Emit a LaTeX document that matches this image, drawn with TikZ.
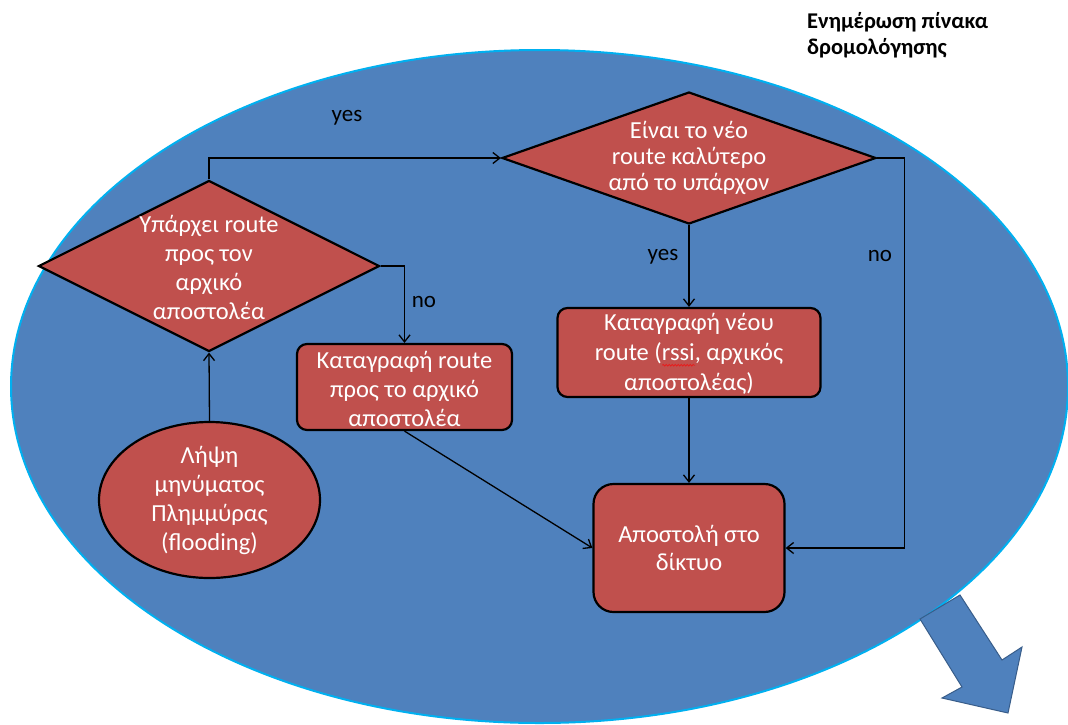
\documentclass[tikz,border=0pt]{standalone}
\usepackage{fontspec}
\setmainfont{Carlito}
\usetikzlibrary{arrows.meta,shapes.geometric,decorations.pathmorphing}

\definecolor{ovalblue}{RGB}{79,129,189}
\definecolor{ovaledge}{RGB}{0,176,240}
\definecolor{boxred}{RGB}{192,80,77}
\definecolor{arrowedge}{RGB}{56,93,138}
\definecolor{spellred}{RGB}{230,30,30}

% wavy spell-check underline under a word
\newsavebox\spellbox
\newlength\spellwd
\newcommand\spellmark[1]{%
  \sbox\spellbox{#1}\setlength\spellwd{\wd\spellbox}%
  \rlap{\tikz[baseline=0pt]\draw[draw=spellred,line width=0.8pt,decorate,
      decoration={snake,amplitude=0.8pt,segment length=3pt}]
      (0pt,-4.5pt) -- (\spellwd,-4.5pt);}%
  \usebox\spellbox}

\tikzset{
  flowbox/.style={rectangle, draw=black, line width=2.2pt, fill=boxred,
    rounded corners=10pt, inner sep=0pt},
  decision/.style={diamond, draw=black, line width=2.2pt, fill=boxred,
    inner sep=0pt},
  startoval/.style={ellipse, draw=black, line width=2.2pt, fill=boxred,
    inner sep=0pt},
  boxtext/.style={text=white, align=center, inner sep=0pt,
    font=\fontsize{24.5}{29}\selectfont},
  link/.style={draw=black, line width=1.3pt,
    -{Straight Barb[length=7pt,width=11pt,line width=1.3pt]}},
  lbl/.style={text=black, inner sep=0pt, font=\fontsize{23}{27}\selectfont},
}

\begin{document}
\begin{tikzpicture}[x=1pt,y=-1pt]
  \useasboundingbox (0,0) rectangle (1068,724);
  \fill[white] (0,0) rectangle (1068,724);

  % large background oval and the outgoing block arrow
  \filldraw[fill=ovalblue, draw=ovaledge, line width=2pt]
    (539.5,386.5) ellipse [x radius=528.5, y radius=336.5];
  \filldraw[fill=ovalblue, draw=arrowedge, line width=1pt, line join=miter]
    (920,619) -- (962,687) -- (942,698) -- (1008,713) -- (1022,647)
    -- (1002,660) -- (960,595) -- cycle;

  % heading
  \node[anchor=north west, inner sep=0pt, align=left,
        font=\bfseries\fontsize{22.5}{26}\selectfont] (title) at (807,12)
    {Ενημέρωση πίνακα\\δρομολόγησης};

  % flow elements
  \node[startoval, minimum width=221pt, minimum height=156pt] (flood) at (209.5,500) {};
  \node[boxtext] (floodtxt) at (flood) {Λήψη\\μηνύματος\\Πλημμύρας\\(flooding)};

  \node[decision, minimum width=341pt, minimum height=171pt] (d1) at (209,266) {};
  \node[boxtext] (d1txt) at (209,267) {Υπάρχει route\\προς τον\\αρχικό\\αποστολέα};

  \node[decision, minimum width=374pt, minimum height=132pt] (d2) at (689,158) {};
  \node[boxtext, font=\fontsize{24.5}{26}\selectfont] (d2txt) at (689,158)
    {Είναι το νέο\\route καλύτερο\\από το υπάρχον};

  \node[flowbox, minimum width=215pt, minimum height=86pt] (rec1) at (404.5,387) {};
  \node[boxtext] (rec1txt) at (404.5,389) {Καταγραφή route\\προς το αρχικό\\αποστολέα};

  \node[flowbox, minimum width=263pt, minimum height=89pt] (rec2) at (689,352.5) {};
  \node[boxtext, font=\fontsize{24.5}{30}\selectfont] (rec2txt) at (689,354)
    {Καταγραφή νέου\\route (\spellmark{rssi}, αρχικός\\αποστολέας)};

  \node[flowbox, rounded corners=20pt, minimum width=191pt, minimum height=128pt] (rec3) at (689,548) {};
  \node[boxtext, font=\fontsize{24.5}{28}\selectfont] (rec3txt) at (rec3) {Αποστολή στο\\δίκτυο};

  % connectors
  \coordinate (noright) at ([xshift=119pt]rec3.east);
  \draw[link] (flood.north) -- (d1.south);
  \draw[link] (d1.north) |- (d2.west);
  \draw[link] (d1.east) -| (rec1.north);
  \draw[link] (d2.south) -- (rec2.north);
  \draw[link] (rec2.south) -- (rec3.north);
  \draw[link] (d2.east) -| (noright) -- (rec3.east);
  \draw[link] (rec1.south) -- (rec3.west);

  % branch labels
  \node[lbl] (yes1) at (347,118) {yes};
  \node[lbl] (no1) at (424,302) {no};
  \node[lbl] (yes2) at (663,257) {yes};
  \node[lbl] (no2) at (880,256) {no};
\end{tikzpicture}
\end{document}
